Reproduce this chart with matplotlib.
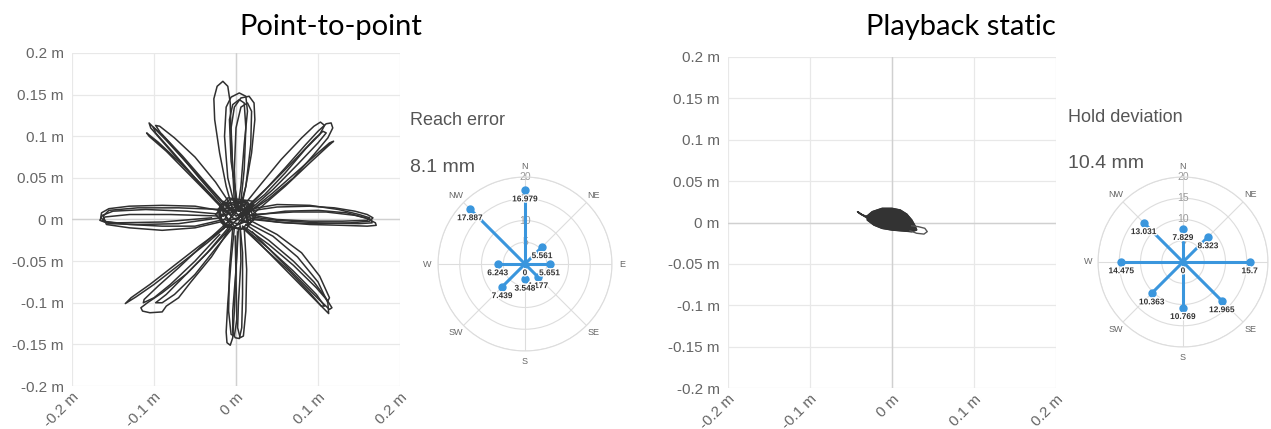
import numpy as np
import matplotlib
matplotlib.use("Agg")
import matplotlib.pyplot as plt
import matplotlib.patheffects as pe

plt.rcParams['font.family'] = ['Liberation Sans', 'DejaVu Sans']

# ---- polar summary data (mm) ----
directions = ['N', 'NE', 'E', 'SE', 'S', 'SW', 'W', 'NW']
reach_error = [16.979, 5.561, 5.651, 4.177, 3.548, 7.439, 6.243, 17.887]
hold_dev = [7.829, 8.323, 15.7, 12.965, 10.769, 10.363, 14.475, 13.031]
ring_ticks = [0, 5, 10, 15, 20]

# ---- point-to-point trajectories (m), loops ----
reach_n = [
    [(-0.004, 0.012), (-0.012, 0.04), (-0.020, 0.08), (-0.026, 0.12), (-0.027, 0.145), (-0.023, 0.160),
     (-0.016, 0.166), (-0.010, 0.160), (-0.007, 0.14), (-0.006, 0.10), (-0.004, 0.06), (-0.002, 0.02)],
    [(0.0, 0.01), (-0.010, 0.05), (-0.014, 0.10), (-0.012, 0.135), (-0.006, 0.147), (0.004, 0.152),
     (0.012, 0.148), (0.014, 0.13), (0.010, 0.09), (0.006, 0.04), (0.002, 0.012)],
    [(0.002, 0.012), (-0.004, 0.06), (-0.006, 0.11), (-0.002, 0.135), (0.006, 0.146), (0.016, 0.148),
     (0.022, 0.14), (0.023, 0.12), (0.019, 0.08), (0.012, 0.04), (0.006, 0.012)],
    [(0.003, 0.01), (-0.006, 0.07), (-0.008, 0.12), (-0.004, 0.138), (0.004, 0.144), (0.010, 0.14),
     (0.012, 0.11), (0.010, 0.06), (0.005, 0.012)],
    [(0.0, 0.012), (-0.002, 0.06), (0.0, 0.11), (0.006, 0.135), (0.014, 0.140), (0.019, 0.13),
     (0.018, 0.09), (0.012, 0.04), (0.004, 0.01)],
]
reach_s = [
    [(-0.002, -0.01), (-0.006, -0.05), (-0.010, -0.10), (-0.012, -0.135), (-0.011, -0.148), (-0.007, -0.151),
     (-0.004, -0.142), (-0.002, -0.11), (0.0, -0.06), (0.002, -0.015)],
    [(0.003, -0.01), (0.0, -0.06), (-0.004, -0.11), (-0.004, -0.135), (-0.001, -0.142), (0.004, -0.143),
     (0.007, -0.13), (0.008, -0.09), (0.008, -0.04), (0.005, -0.008)],
    [(0.005, -0.008), (0.006, -0.05), (0.003, -0.10), (0.002, -0.13), (0.005, -0.142), (0.009, -0.14),
     (0.012, -0.11), (0.013, -0.06), (0.010, -0.01)],
    [(-0.004, -0.01), (-0.008, -0.06), (-0.009, -0.11), (-0.006, -0.138), (-0.002, -0.14), (0.001, -0.12),
     (0.0, -0.07), (-0.001, -0.02)],
]
reach_e = [
    [(0.015, 0.01), (0.05, 0.015), (0.09, 0.016), (0.12, 0.014), (0.145, 0.010), (0.160, 0.006),
     (0.167, 0.002), (0.163, -0.002), (0.14, -0.004), (0.10, -0.005), (0.06, -0.004), (0.02, 0.0)],
    [(0.015, 0.004), (0.06, 0.010), (0.10, 0.011), (0.135, 0.008), (0.158, 0.002), (0.170, -0.004),
     (0.171, -0.007), (0.16, -0.008), (0.13, -0.007), (0.09, -0.006), (0.05, -0.003), (0.015, 0.002)],
    [(0.015, 0.012), (0.05, 0.018), (0.09, 0.017), (0.125, 0.012), (0.150, 0.006), (0.163, 0.002),
     (0.160, -0.001), (0.13, -0.002), (0.09, -0.002), (0.05, 0.0), (0.015, 0.006)],
    [(0.02, 0.006), (0.07, 0.009), (0.11, 0.009), (0.145, 0.005), (0.165, 0.0), (0.166, -0.004),
     (0.15, -0.005), (0.10, -0.004), (0.05, -0.001), (0.02, 0.003)],
]
reach_w = [
    [(-0.015, 0.010), (-0.05, 0.016), (-0.09, 0.017), (-0.13, 0.016), (-0.155, 0.013), (-0.164, 0.008),
     (-0.165, 0.002), (-0.158, -0.003), (-0.13, -0.006), (-0.09, -0.008), (-0.05, -0.008), (-0.015, 0.0)],
    [(-0.015, 0.006), (-0.06, 0.010), (-0.11, 0.012), (-0.150, 0.010), (-0.163, 0.005), (-0.166, -0.001),
     (-0.155, -0.005), (-0.12, -0.006), (-0.07, -0.005), (-0.02, 0.002)],
    [(-0.015, 0.012), (-0.07, 0.014), (-0.12, 0.014), (-0.155, 0.011), (-0.162, 0.004), (-0.158, -0.006),
     (-0.13, -0.010), (-0.09, -0.013), (-0.05, -0.010), (-0.015, -0.002)],
    [(-0.015, 0.004), (-0.08, 0.006), (-0.13, 0.006), (-0.160, 0.003), (-0.163, -0.002), (-0.145, -0.004),
     (-0.09, -0.003), (-0.03, 0.002)],
]
reach_ne = [
    [(0.012, 0.012), (0.035, 0.035), (0.06, 0.062), (0.085, 0.090), (0.100, 0.106), (0.110, 0.115),
     (0.116, 0.116), (0.118, 0.110), (0.112, 0.098), (0.095, 0.078), (0.07, 0.05), (0.04, 0.025),
     (0.015, 0.008)],
    [(0.015, 0.008), (0.045, 0.032), (0.075, 0.058), (0.100, 0.080), (0.114, 0.092), (0.119, 0.094),
     (0.112, 0.088), (0.09, 0.068), (0.06, 0.04), (0.02, 0.006)],
    [(0.008, 0.015), (0.03, 0.042), (0.055, 0.072), (0.08, 0.098), (0.095, 0.112), (0.103, 0.117),
     (0.108, 0.113), (0.102, 0.102), (0.085, 0.085), (0.06, 0.056), (0.035, 0.03), (0.012, 0.012)],
    [(0.012, 0.014), (0.04, 0.04), (0.07, 0.07), (0.095, 0.096), (0.106, 0.106), (0.110, 0.104),
     (0.10, 0.092), (0.075, 0.066), (0.045, 0.036), (0.015, 0.01)],
]
reach_nw = [
    [(-0.008, 0.012), (-0.03, 0.035), (-0.06, 0.068), (-0.085, 0.095), (-0.100, 0.110), (-0.106, 0.116),
     (-0.104, 0.110), (-0.09, 0.094), (-0.065, 0.066), (-0.04, 0.038), (-0.012, 0.008)],
    [(-0.01, 0.008), (-0.04, 0.04), (-0.07, 0.07), (-0.095, 0.093), (-0.109, 0.104), (-0.106, 0.100),
     (-0.085, 0.082), (-0.055, 0.052), (-0.025, 0.022), (-0.006, 0.006)],
    [(-0.004, 0.014), (-0.025, 0.045), (-0.05, 0.075), (-0.075, 0.098), (-0.093, 0.112), (-0.098, 0.113),
     (-0.092, 0.104), (-0.07, 0.08), (-0.045, 0.05), (-0.015, 0.016)],
    [(-0.006, 0.01), (-0.035, 0.042), (-0.065, 0.076), (-0.090, 0.102), (-0.101, 0.111), (-0.098, 0.104),
     (-0.078, 0.082), (-0.05, 0.05), (-0.02, 0.018)],
]
reach_se = [
    [(0.012, -0.006), (0.04, -0.025), (0.07, -0.05), (0.095, -0.075), (0.110, -0.095), (0.117, -0.106),
     (0.114, -0.108), (0.10, -0.095), (0.08, -0.075), (0.05, -0.045), (0.02, -0.015)],
    [(0.01, -0.002), (0.045, -0.02), (0.075, -0.045), (0.10, -0.075), (0.112, -0.100), (0.113, -0.113),
     (0.108, -0.108), (0.09, -0.09), (0.06, -0.06), (0.03, -0.03), (0.008, -0.008)],
    [(0.015, 0.0), (0.05, -0.018), (0.08, -0.04), (0.102, -0.068), (0.114, -0.094), (0.112, -0.098),
     (0.098, -0.082), (0.07, -0.055), (0.04, -0.03), (0.012, -0.01)],
    [(0.008, -0.01), (0.035, -0.035), (0.065, -0.062), (0.09, -0.088), (0.104, -0.104), (0.108, -0.104),
     (0.098, -0.09), (0.07, -0.062), (0.04, -0.035), (0.012, -0.012)],
]
reach_sw = [
    [(-0.008, -0.005), (-0.035, -0.028), (-0.07, -0.055), (-0.10, -0.078), (-0.122, -0.093), (-0.135, -0.101),
     (-0.128, -0.094), (-0.105, -0.078), (-0.075, -0.055), (-0.045, -0.032), (-0.012, -0.008)],
    [(-0.005, -0.008), (-0.03, -0.035), (-0.06, -0.065), (-0.09, -0.088), (-0.108, -0.100), (-0.116, -0.106),
     (-0.114, -0.110), (-0.105, -0.112), (-0.090, -0.111), (-0.085, -0.104), (-0.07, -0.094), (-0.055, -0.075),
     (-0.03, -0.045), (-0.008, -0.012)],
    [(-0.010, -0.003), (-0.04, -0.03), (-0.07, -0.058), (-0.095, -0.08), (-0.112, -0.096), (-0.113, -0.100),
     (-0.10, -0.094), (-0.08, -0.078), (-0.05, -0.05), (-0.02, -0.018)],
    [(-0.006, -0.006), (-0.035, -0.04), (-0.065, -0.07), (-0.085, -0.09), (-0.098, -0.100), (-0.090, -0.100),
     (-0.075, -0.09), (-0.05, -0.066), (-0.025, -0.035), (-0.004, -0.01)],
]
# dense scribble at the start position
center_x = [0.0, 0.018, 0.02, -0.01, -0.022, -0.015, 0.012, 0.025, 0.01, -0.02, -0.018, 0.005, 0.022,
            0.015, -0.008, -0.025, -0.01, 0.02, 0.0, -0.016, 0.016, 0.008, -0.012, -0.02, 0.014, 0.022,
            -0.004, -0.018, 0.01, 0.002]
center_y = [0.0, 0.01, 0.022, 0.026, 0.012, -0.008, -0.012, 0.006, 0.022, 0.018, -0.004, -0.012, 0.0,
            0.02, 0.024, 0.006, -0.01, 0.016, 0.004, 0.022, -0.006, 0.026, -0.006, 0.004, 0.014, 0.018,
            -0.012, 0.014, 0.01, 0.002]
center2_x = [-0.012, 0.006, 0.016, 0.004, -0.014, -0.006, 0.012, 0.018, -0.002, -0.016, -0.008, 0.01,
             0.014, -0.004, -0.012, 0.002, 0.008, -0.01, 0.0]
center2_y = [0.016, 0.02, 0.008, -0.006, 0.0, 0.014, 0.018, 0.0, -0.008, 0.008, 0.02, 0.012, -0.004,
             0.002, 0.01, 0.016, 0.004, -0.002, 0.008]

# ---- playback static blob (m) ----
blob_core = [(-0.030, 0.008), (-0.024, 0.013), (-0.012, 0.017), (0.0, 0.017), (0.010, 0.015),
             (0.018, 0.010), (0.024, 0.003), (0.028, -0.004), (0.030, -0.009), (0.024, -0.011),
             (0.012, -0.010), (0.0, -0.009), (-0.012, -0.007), (-0.022, -0.003), (-0.030, 0.003)]
blob_tail = [(-0.028, 0.004), (-0.036, 0.009), (-0.042, 0.013), (-0.038, 0.010), (-0.028, 0.006)]
blob_loop = [(0.024, -0.004), (0.032, -0.005), (0.040, -0.007), (0.043, -0.011), (0.039, -0.014),
             (0.030, -0.013), (0.022, -0.010)]

ticks = [-0.2, -0.15, -0.1, -0.05, 0, 0.05, 0.1, 0.15, 0.2]
xticks = [-0.2, -0.1, 0, 0.1, 0.2]

LINE = '#3a96dd'
INK = '#303030'
W, H = 1271, 429


def fmt(v):
    return '0 m' if v == 0 else ('%g m' % v)


def setup_xy(ax):
    ax.set_xlim(-0.2, 0.2)
    ax.set_ylim(-0.2, 0.2)
    ax.set_xticks(xticks)
    ax.set_yticks(ticks)
    ax.set_xticklabels([fmt(v) for v in xticks], rotation=45, ha='right', va='top',
                       rotation_mode='anchor')
    ax.set_yticklabels([fmt(v) for v in ticks])
    ax.tick_params(length=0, labelsize=11, labelcolor='#666666')
    ax.tick_params(axis='y', pad=6)
    ax.tick_params(axis='x', pad=3)
    ax.grid(True, color='#e8e8e8', lw=0.9)
    ax.axhline(0, color='#d0d0d0', lw=1.0, zorder=1)
    ax.axvline(0, color='#d0d0d0', lw=1.0, zorder=1)
    for s in ax.spines.values():
        s.set_visible(False)
    ax.set_axisbelow(True)


def setup_polar(ax, values, hide=()):
    theta = np.deg2rad(np.arange(0, 360, 45))
    ax.set_theta_zero_location('N')
    ax.set_theta_direction(-1)
    ax.set_ylim(0, 20)
    ax.set_yticks([5, 10, 15, 20])
    ax.set_yticklabels([])
    ax.set_xticks(theta)
    ax.set_xticklabels([])
    ax.grid(True, color='#dddddd', lw=0.8)
    ax.spines['polar'].set_color('#dddddd')
    ax.spines['polar'].set_linewidth(0.8)
    halo = [pe.withStroke(linewidth=2, foreground='white')]
    for r in ring_ticks[1:]:
        ax.text(0, r, str(r), ha='center', va='center', fontsize=7.5, color='#999999', zorder=2)
    for t, d in zip(theta, directions):
        if d in hide:  # falls outside the picture in the original
            continue
        ax.text(t, 22.4, d, ha='center', va='center', fontsize=6.5, color='#666666',
                clip_on=False)
    for t, v in zip(theta, values):
        ax.plot([t, t], [0, v], color=LINE, lw=2.2, solid_capstyle='round', zorder=3)
        ax.plot([t], [v], 'o', color=LINE, ms=5, zorder=4)
        ax.annotate('%g' % v, (t, v), xytext=(0, -7), textcoords='offset points',
                    ha='center', va='center', fontsize=6, fontweight='bold', color='#333333',
                    path_effects=halo, zorder=5, annotation_clip=False)
    ax.annotate('0', (0, 0), xytext=(0, -7), textcoords='offset points', ha='center',
                va='center', fontsize=6, fontweight='bold', color='#333333',
                path_effects=halo, zorder=5)


fig = plt.figure(figsize=(W / 100, H / 100), dpi=100)

# left: point-to-point
ax1 = fig.add_axes([72 / W, 1 - 386 / H, 328 / W, 333 / H])
setup_xy(ax1)
for loops in [reach_e, reach_w, reach_n, reach_s, reach_ne, reach_nw, reach_se, reach_sw]:
    for loop in loops:
        xs, ys = zip(*loop)
        ax1.plot(xs, ys, color=INK, lw=1.1, zorder=3)
ax1.plot(center_x, center_y, color=INK, lw=1.1, zorder=3)
ax1.plot(center2_x, center2_y, color=INK, lw=1.1, zorder=3)

# right: playback static
ax2 = fig.add_axes([728 / W, 1 - 388 / H, 328 / W, 331 / H])
setup_xy(ax2)
bx, by = zip(*blob_core)
ax2.fill(bx, by, color='#333333', zorder=3)
ax2.plot(list(bx) + [bx[0]], list(by) + [by[0]], color='#333333', lw=1.2, zorder=3)
tx, ty = zip(*blob_tail)
ax2.plot(tx, ty, color='#333333', lw=1.2, zorder=3)
lx, ly = zip(*blob_loop)
ax2.plot(lx, ly, color='#555555', lw=1.0, zorder=3)

# polar summaries
p1 = fig.add_axes([438 / W, 1 - 351 / H, 174 / W, 174 / H], projection='polar')
setup_polar(p1, reach_error)
p2 = fig.add_axes([1098 / W, 1 - 347 / H, 170 / W, 170 / H], projection='polar')
setup_polar(p2, hold_dev, hide=('E',))

# titles and headline numbers
fig.text(331 / W, 1 - 27 / H, 'Point-to-point', ha='center', va='center', fontsize=21,
         family=['Lato', 'DejaVu Sans'], color='black')
fig.text(961 / W, 1 - 27 / H, 'Playback static', ha='center', va='center', fontsize=21,
         family=['Lato', 'DejaVu Sans'], color='black')
fig.text(410 / W, 1 - 120 / H, 'Reach error', ha='left', va='center', fontsize=13, color='#555555')
fig.text(410 / W, 1 - 167 / H, '8.1 mm', ha='left', va='center', fontsize=14, color='#555555')
fig.text(1068 / W, 1 - 117 / H, 'Hold deviation', ha='left', va='center', fontsize=13,
         color='#555555')
fig.text(1068 / W, 1 - 163 / H, '10.4 mm', ha='left', va='center', fontsize=14, color='#555555')

fig.savefig('out.png', dpi=100)
